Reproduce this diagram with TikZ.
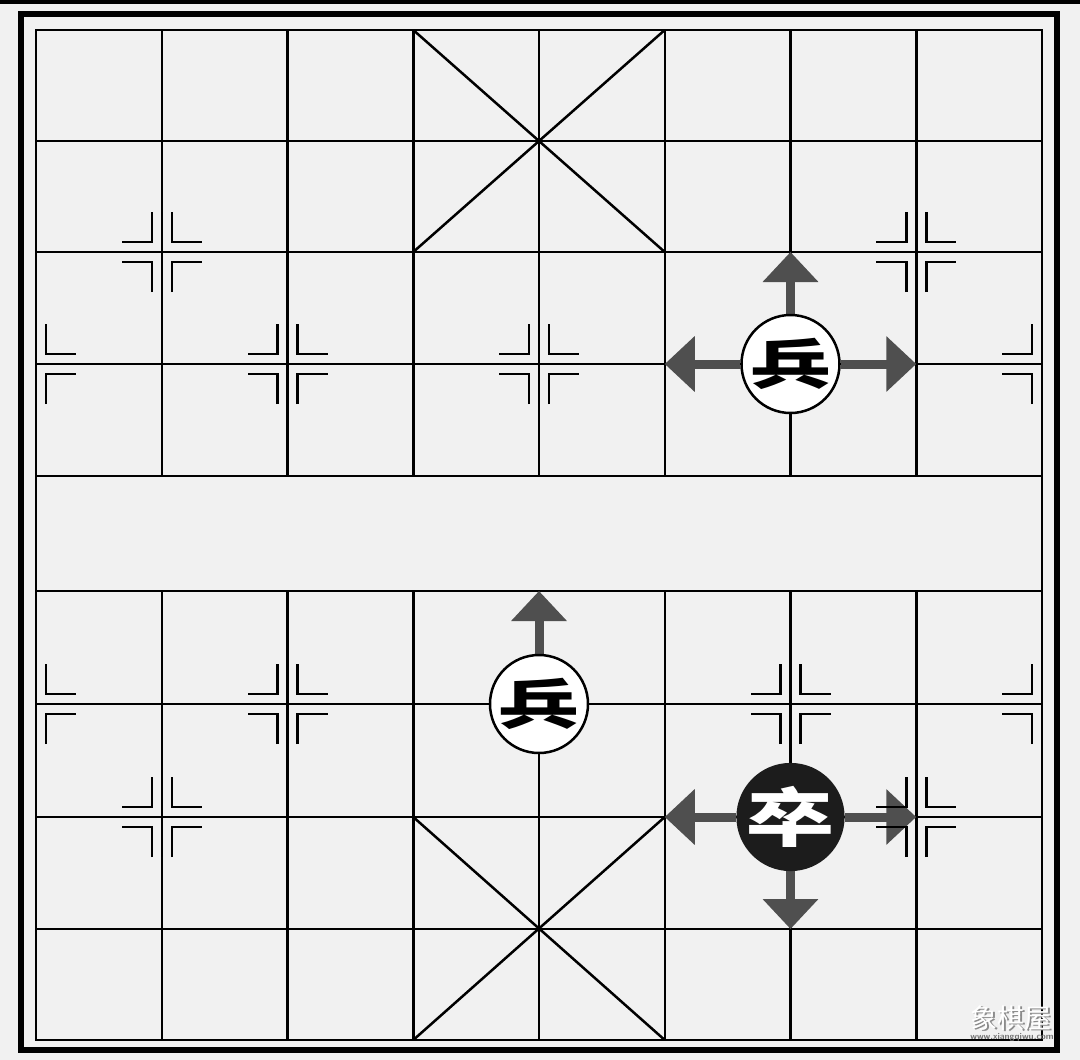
\documentclass[tikz,border=0pt]{standalone}
\usepackage{fontspec}
\newfontfamily\cjk{Noto Sans CJK SC}
\usetikzlibrary{arrows.meta}
\definecolor{bgc}{HTML}{F1F1F1}
\definecolor{arrc}{HTML}{4F4F4F}
\definecolor{blk}{HTML}{1C1C1C}
\pgfdeclarelayer{bg}\pgfdeclarelayer{mid}\pgfsetlayers{bg,mid,main}
\tikzset{
  gridline/.style={line width=2.5pt, black},
  frameline/.style={line width=6pt, black},
  arr/.style={arrc, line width=9pt, -{Triangle[width=54pt,length=30pt]}},
  wpiece/.style={circle, draw=black, line width=2.5pt, fill=white, minimum size=98pt, inner sep=0pt, text=black,
    font=\cjk\bfseries\fontsize{54}{54}\selectfont},
  bpiece/.style={circle, fill=blk, minimum size=108pt, inner sep=0pt, text=white,
    font=\cjk\bfseries\fontsize{64}{64}\selectfont},
  mkR/.pic={\draw[gridline] (10,-40) -- (10,-10) -- (40,-10);
            \draw[gridline] (10,40) -- (10,10) -- (40,10);},
  mkL/.pic={\draw[gridline] (-10,-40) -- (-10,-10) -- (-40,-10);
            \draw[gridline] (-10,40) -- (-10,10) -- (-40,10);},
  mk/.pic={\pic {mkR}; \pic {mkL};}
}
\begin{document}
\begin{tikzpicture}[x=1pt,y=-1pt]
\useasboundingbox (0,0) rectangle (1080,1060);
% pieces
\node[wpiece] (b1) at (790.5,364) {\scalebox{1.5}[1]{兵}};
\node[wpiece] (b2) at (539,704) {\scalebox{1.5}[1]{兵}};
\node[bpiece] (z) at (790.5,817) {\scalebox{1.4}[1]{卒}};
% arrow targets
\coordinate (t1) at (790.5,252);
\coordinate (t2) at (664.75,364);
\coordinate (t3) at (916.25,364);
\coordinate (t4) at (539,591);
\coordinate (t5) at (664.75,817);
\coordinate (t6) at (916.25,817);
\coordinate (t7) at (790.5,929);
\begin{pgfonlayer}{bg}
  \fill[bgc] (0,0) rectangle (1080,1060);
  \fill[black] (0,0) rectangle (1080,3.5);
  \draw[frameline] (21,14) rectangle (1057,1050);
  \draw[gridline] (36,30) rectangle (1042,1040);
  \foreach \y in {141,252,364,476,591,704,817,929}
    \draw[gridline] (36,\y) -- (1042,\y);
  \foreach \i in {1,...,7}{
    \pgfmathsetmacro\x{36+\i*125.75}
    \draw[gridline] (\x,30) -- (\x,476);
    \draw[gridline] (\x,591) -- (\x,1040);
  }
  % palaces
  \draw[gridline] (413.25,30) -- (664.75,252);
  \draw[gridline] (664.75,30) -- (413.25,252);
  \draw[gridline] (413.25,817) -- (664.75,1040);
  \draw[gridline] (664.75,817) -- (413.25,1040);
  % arrows
  \draw[arr] (b1) -- (t1);
  \draw[arr] (b1) -- (t2);
  \draw[arr] (b1) -- (t3);
  \draw[arr] (b2) -- (t4);
  \draw[arr] (z) -- (t5);
  \draw[arr] (z) -- (t6);
  \draw[arr] (z) -- (t7);
\end{pgfonlayer}
\begin{pgfonlayer}{mid}
  \foreach \p in {(161.75,252),(916.25,252),(287.5,364),(539,364),(790.5,364),
                  (287.5,704),(539,704),(790.5,704),(161.75,817),(916.25,817)}
    \pic at \p {mk};
  \pic at (36,364) {mkR};
  \pic at (36,704) {mkR};
  \pic at (1042,364) {mkL};
  \pic at (1042,704) {mkL};
\end{pgfonlayer}
% watermark
\node[text=black!45, font=\cjk\fontsize{27}{27}\selectfont] (wms) at (1012.5,1019.5) {象棋屋};
\node[text=white, font=\cjk\fontsize{27}{27}\selectfont] (wm) at (1011,1018) {象棋屋};
\node[text=black!55, font=\sffamily\bfseries\fontsize{9}{9}\selectfont] (url) at (1012,1037) {www.xiangqiwu.com};
\end{tikzpicture}
\end{document}
